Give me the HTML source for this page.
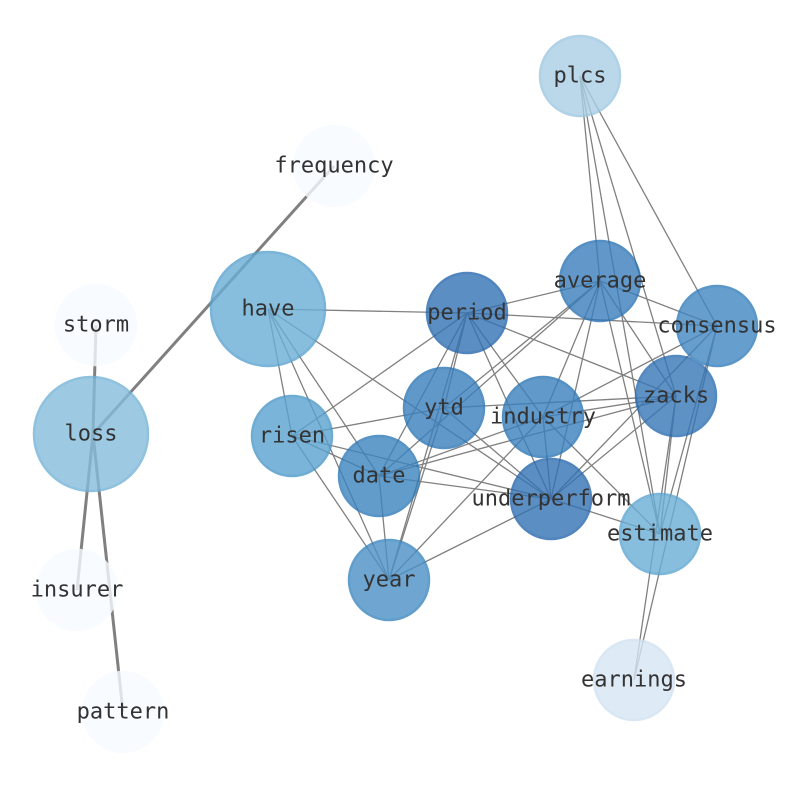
<!DOCTYPE html>
<html><head><meta charset="utf-8"><style>html,body{margin:0;padding:0;background:#fff}svg{display:block}text{font-family:"DejaVu Sans Mono","Liberation Mono",monospace;font-size:22px;fill:#333;text-anchor:middle;dominant-baseline:central}</style></head>
<body>
<svg width="794" height="790" xmlns="http://www.w3.org/2000/svg">
<g stroke="#808080" stroke-width="3">
<line x1="93" y1="434" x2="334" y2="166"/>
<line x1="93" y1="434" x2="96" y2="325"/>
<line x1="93" y1="434" x2="77" y2="590"/>
<line x1="93" y1="434" x2="123" y2="712"/>
</g>
<g stroke="#808080" stroke-width="1.3">
<line x1="580" y1="76" x2="600" y2="281"/>
<line x1="580" y1="76" x2="660" y2="534"/>
<line x1="580" y1="76" x2="676" y2="396"/>
<line x1="580" y1="76" x2="717" y2="326"/>
<line x1="268" y1="309" x2="467" y2="313"/>
<line x1="268" y1="309" x2="551" y2="499"/>
<line x1="268" y1="309" x2="292" y2="436"/>
<line x1="268" y1="309" x2="379" y2="476"/>
<line x1="268" y1="309" x2="389" y2="580"/>
<line x1="467" y1="313" x2="600" y2="281"/>
<line x1="467" y1="313" x2="717" y2="326"/>
<line x1="467" y1="313" x2="676" y2="396"/>
<line x1="467" y1="313" x2="444" y2="408"/>
<line x1="467" y1="313" x2="543" y2="417"/>
<line x1="467" y1="313" x2="379" y2="476"/>
<line x1="467" y1="313" x2="389" y2="580"/>
<line x1="467" y1="313" x2="292" y2="436"/>
<line x1="467" y1="313" x2="551" y2="499"/>
<line x1="600" y1="281" x2="717" y2="326"/>
<line x1="600" y1="281" x2="676" y2="396"/>
<line x1="600" y1="281" x2="444" y2="408"/>
<line x1="600" y1="281" x2="379" y2="476"/>
<line x1="600" y1="281" x2="543" y2="417"/>
<line x1="600" y1="281" x2="551" y2="499"/>
<line x1="600" y1="281" x2="660" y2="534"/>
<line x1="717" y1="326" x2="543" y2="417"/>
<line x1="717" y1="326" x2="551" y2="499"/>
<line x1="717" y1="326" x2="660" y2="534"/>
<line x1="717" y1="326" x2="634" y2="680"/>
<line x1="676" y1="396" x2="444" y2="408"/>
<line x1="676" y1="396" x2="543" y2="417"/>
<line x1="676" y1="396" x2="551" y2="499"/>
<line x1="676" y1="396" x2="379" y2="476"/>
<line x1="676" y1="396" x2="634" y2="680"/>
<line x1="676" y1="396" x2="660" y2="534"/>
<line x1="292" y1="436" x2="444" y2="408"/>
<line x1="292" y1="436" x2="551" y2="499"/>
<line x1="292" y1="436" x2="389" y2="580"/>
<line x1="292" y1="436" x2="379" y2="476"/>
<line x1="379" y1="476" x2="543" y2="417"/>
<line x1="379" y1="476" x2="551" y2="499"/>
<line x1="379" y1="476" x2="389" y2="580"/>
<line x1="444" y1="408" x2="551" y2="499"/>
<line x1="444" y1="408" x2="389" y2="580"/>
<line x1="543" y1="417" x2="551" y2="499"/>
<line x1="543" y1="417" x2="389" y2="580"/>
<line x1="543" y1="417" x2="660" y2="534"/>
<line x1="551" y1="499" x2="389" y2="580"/>
<line x1="551" y1="499" x2="660" y2="534"/>
</g>
<g stroke-width="2.5" opacity="0.8">
<circle cx="580" cy="76" r="40" fill="#a9cfe5" stroke="#9cc7e1"/>
<circle cx="334" cy="166" r="40" fill="#f7fbff" stroke="#f7fbff"/>
<circle cx="268" cy="309" r="57" fill="#6aaed6" stroke="#5aa2cf"/>
<circle cx="96" cy="325" r="40" fill="#f7fbff" stroke="#f7fbff"/>
<circle cx="91" cy="434" r="57" fill="#85bcdc" stroke="#74b3d8"/>
<circle cx="77" cy="590" r="40" fill="#f7fbff" stroke="#f7fbff"/>
<circle cx="123" cy="712" r="40" fill="#f7fbff" stroke="#f7fbff"/>
<circle cx="634" cy="680" r="40" fill="#d6e5f4" stroke="#d0e1f2"/>
<circle cx="660" cy="534" r="40" fill="#6aaed6" stroke="#5ca4d0"/>
<circle cx="389" cy="580" r="40" fill="#4a91c6" stroke="#3a87c0"/>
<circle cx="292" cy="436" r="40" fill="#5aa2cf" stroke="#4b98ca"/>
<circle cx="379" cy="476" r="40" fill="#3c84bf" stroke="#2f7bb9"/>
<circle cx="444" cy="408" r="40" fill="#3a7fbd" stroke="#2c76b6"/>
<circle cx="543" cy="417" r="40" fill="#3a80bd" stroke="#2c76b6"/>
<circle cx="551" cy="499" r="40" fill="#3372b3" stroke="#2767ad"/>
<circle cx="676" cy="396" r="40" fill="#3676b6" stroke="#2a6eb1"/>
<circle cx="717" cy="326" r="40" fill="#4186c1" stroke="#337dbb"/>
<circle cx="600" cy="281" r="40" fill="#3a7ebc" stroke="#2b74b5"/>
<circle cx="467" cy="313" r="40" fill="#3372b3" stroke="#2767ad"/>
</g>
<text x="580" y="76">plcs</text>
<text x="334" y="166">frequency</text>
<text x="268" y="309">have</text>
<text x="96" y="325">storm</text>
<text x="91" y="434">loss</text>
<text x="77" y="590">insurer</text>
<text x="123" y="712">pattern</text>
<text x="634" y="680">earnings</text>
<text x="660" y="534">estimate</text>
<text x="389" y="580">year</text>
<text x="292" y="436">risen</text>
<text x="379" y="476">date</text>
<text x="444" y="408">ytd</text>
<text x="543" y="417">industry</text>
<text x="551" y="499">underperform</text>
<text x="676" y="396">zacks</text>
<text x="717" y="326">consensus</text>
<text x="600" y="281">average</text>
<text x="467" y="313">period</text>
</svg>
</body></html>
